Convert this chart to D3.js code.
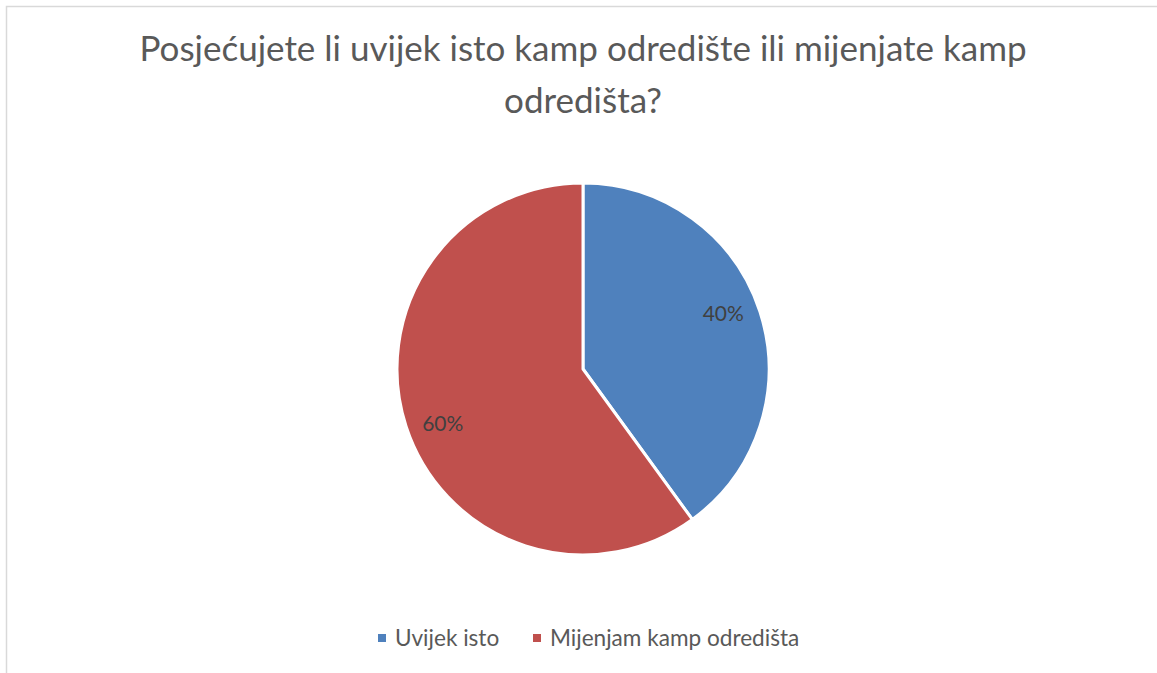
<!DOCTYPE html>
<html>
<head>
<meta charset="utf-8">
<script src="https://cdn.jsdelivr.net/npm/d3@7"></script>
<style>
  body { margin: 0; background: #fff; }
  svg { display: block; font-family: Lato, "Open Sans", sans-serif; }
</style>
</head>
<body>
<svg width="1157" height="673"></svg>
<script>
const titleLines = ["Posjećujete li uvijek isto kamp odredište ili mijenjate kamp", "odredišta?"];
const categories = ["Uvijek isto", "Mijenjam kamp odredišta"];
const values = [40, 60];
const colors = ["#4f81bd", "#c0504d"];

let svg = d3.select("svg");
let width = 1157, height = 673;

// chart frame (cropped at right and bottom)
svg.append("rect")
  .attr("x", 6.5).attr("y", 6.5)
  .attr("width", width + 20).attr("height", height + 20)
  .attr("fill", "#fff")
  .attr("stroke", "#d9d9d9")
  .attr("stroke-width", 1.5);

let title = svg.append("text")
  .attr("text-anchor", "middle")
  .attr("fill", "#595959")
  .style("font-size", "35px");
title.selectAll("tspan")
  .data(titleLines)
  .enter().append("tspan")
  .attr("x", 583)
  .attr("y", (d, i) => 61 + i * 52)
  .text(d => d);

let cx = 583, cy = 369, radius = 186;
let pie = d3.pie().sort(null).value(d => d);
let arc = d3.arc().innerRadius(0).outerRadius(radius);
let total = d3.sum(values);

// label position, a bit inside the rim
function labelPos(d) {
  let a = (d.startAngle + d.endAngle) / 2 - 0.06, r = radius * 0.81;
  return [Math.sin(a) * r, -Math.cos(a) * r];
}

let g = svg.append("g").attr("transform", "translate(" + cx + "," + cy + ")");
let slices = g.selectAll("g.slice")
  .data(pie(values))
  .enter().append("g").attr("class", "slice");

slices.append("path")
  .attr("d", arc)
  .attr("fill", (d, i) => colors[i])
  .attr("stroke", "#fff")
  .attr("stroke-width", 3)
  .attr("stroke-linejoin", "round");

slices.append("text")
  .attr("transform", d => "translate(" + labelPos(d) + ")")
  .attr("text-anchor", "middle")
  .attr("dy", "0.35em")
  .attr("fill", "#404040")
  .style("font-size", "21px")
  .text(d => Math.round(d.value / total * 100) + "%");

// legend
let legendX = [378, 533];
let legend = svg.selectAll("g.legend")
  .data(categories)
  .enter().append("g").attr("class", "legend")
  .attr("transform", (d, i) => "translate(" + legendX[i] + ",638)");
legend.append("rect")
  .attr("x", 0).attr("y", -4)
  .attr("width", 8).attr("height", 8)
  .attr("fill", (d, i) => colors[i]);
legend.append("text")
  .attr("x", 17)
  .attr("dy", "0.35em")
  .attr("fill", "#595959")
  .style("font-size", "22.6px")
  .text(d => d);
</script>
</body>
</html>
